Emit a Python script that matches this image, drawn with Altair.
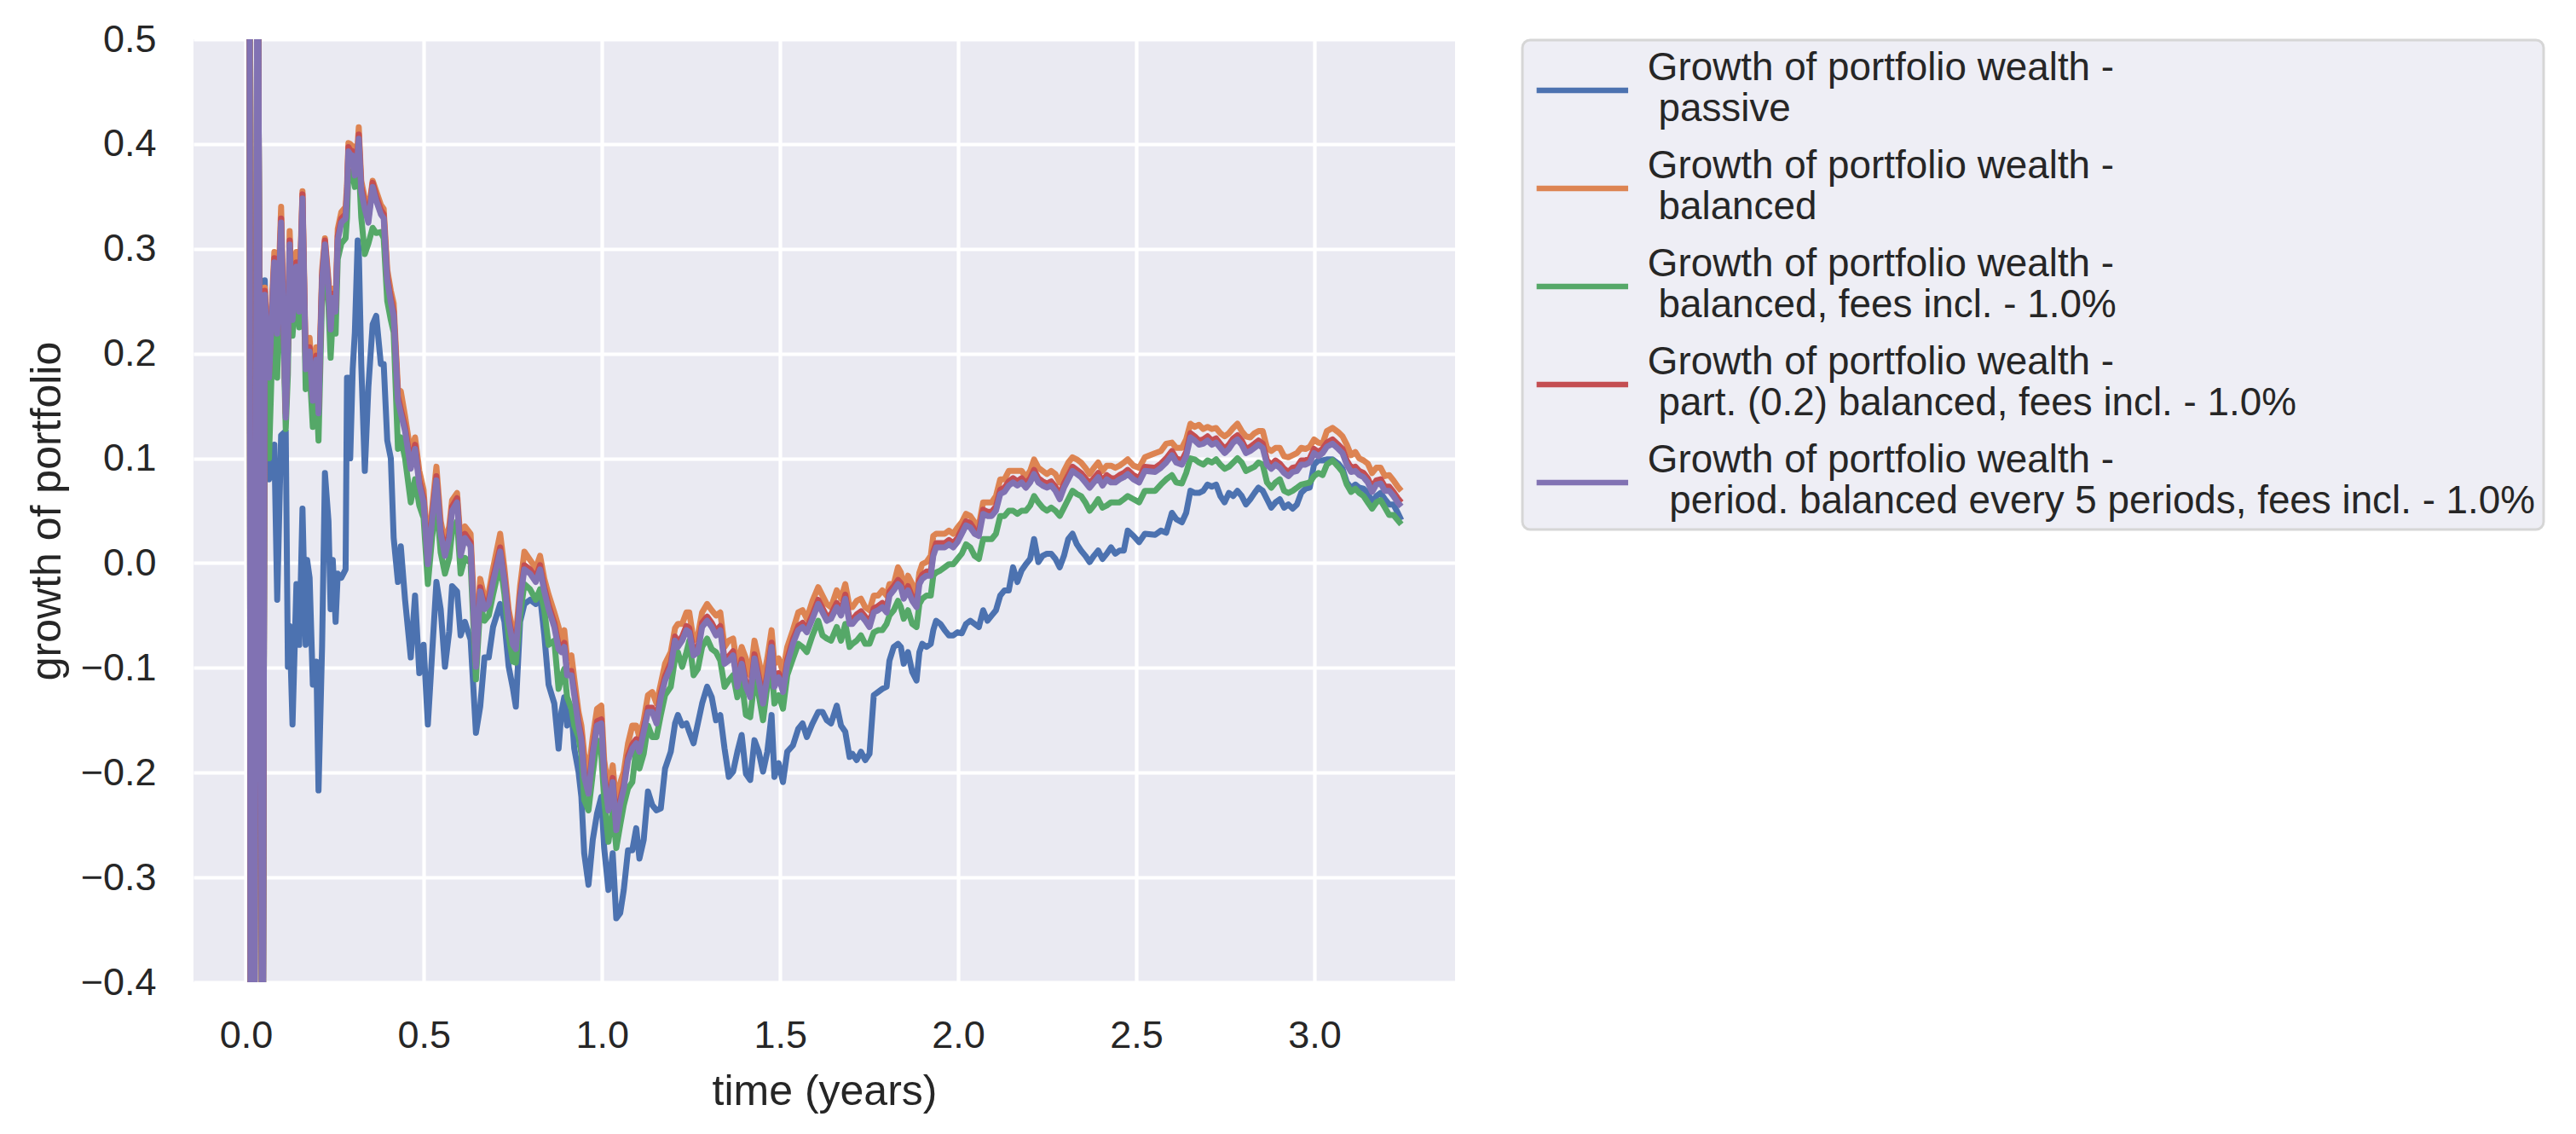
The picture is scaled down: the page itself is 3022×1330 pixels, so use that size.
import altair as alt
import pandas as pd

# time (years)
t_head = [0.008, 0.016, 0.033, 0.047]
t_main = [
0.053,0.065,0.080,0.088,0.099,0.112,0.118,0.123,0.131,0.142,0.150,0.159,0.168,0.172,0.179,0.188,0.198,0.204,0.214,0.222,
0.232,0.238,0.244,0.252,0.258,0.268,0.280,0.284,0.288,0.293,0.300,0.306,0.314,0.317,0.324,0.334,0.344,0.356,0.366,0.379,
0.387,0.397,0.407,0.415,0.427,0.435,0.447,0.463,0.475,0.487,0.499,0.511,0.523,0.535,0.547,0.559,0.571,0.579,0.593,0.603,
0.615,0.631,0.646,0.658,0.670,0.682,0.694,0.714,0.726,0.738,0.750,0.758,0.770,0.782,0.798,0.814,0.826,0.838,0.850,
0.866,0.878,0.886,0.894,0.902,0.914,0.922,0.934,0.942,0.950,0.962,0.974,0.986,0.998,1.006,1.018,1.030,1.040,1.051,1.061,
1.073,1.085,1.096,1.105,1.117,1.129,1.141,1.153,1.165,1.177,1.193,1.205,1.213,1.225,1.237,1.245,1.257,1.269,1.281,1.295,
1.308,1.320,1.332,1.344,1.356,1.368,1.380,1.392,1.404,1.416,1.428,1.440,1.452,1.464,1.476,1.484,1.496,1.508,1.520,1.536,
1.551,1.563,1.575,1.591,1.607,1.619,1.631,1.643,1.659,1.671,1.683,1.695,
1.703,1.715,1.727,1.739,1.751,1.763,1.775,1.787,1.799,1.807,1.819,1.831,1.839,1.847,1.859,1.871,1.883,1.891,1.899,1.911,
1.923,1.930,1.938,1.950,1.962,1.974,1.986,1.998,2.010,2.022,2.034,2.046,2.058,2.070,2.082,2.094,2.106,2.118,2.130,2.142,
2.154,2.166,2.178,2.190,2.202,2.213,2.225,2.237,2.249,2.261,2.273,2.285,2.297,2.309,2.321,2.333,2.345,2.357,2.369,2.381,
2.393,2.405,2.417,2.429,2.441,2.453,2.465,2.476,2.492,2.508,2.524,
2.553,2.569,2.584,2.600,2.612,2.628,2.640,2.652,2.664,2.676,2.688,2.700,2.712,2.724,2.736,2.748,2.760,2.772,2.784,2.796,
2.808,2.820,2.832,2.843,2.855,2.867,2.879,2.891,2.903,2.915,2.927,2.939,2.951,2.963,2.975,2.987,2.999,3.011,3.023,3.035,
3.051,3.067,3.079,3.091,3.103,3.115,3.126,3.138,3.150,3.162,3.174,3.186,3.198,3.210,3.222,3.234,3.244]

# initial out-of-range values shared by all strategies
v_head = [1.5, -1.5, 0.7, -0.6]

passive = [
0.270,0.080,0.113,-0.035,0.122,0.126,-0.099,-0.060,-0.154,-0.020,-0.078,0.052,-0.078,0.003,-0.014,-0.116,-0.094,-0.217,-0.080,0.086,
0.040,-0.044,0.003,-0.056,-0.010,-0.014,-0.006,0.177,0.177,0.100,0.185,0.220,0.308,0.300,0.190,0.088,0.168,0.228,0.236,0.190,
0.190,0.117,0.100,0.024,-0.018,0.016,-0.035,-0.090,-0.031,-0.105,-0.078,-0.154,-0.086,-0.018,-0.044,-0.099,-0.065,-0.022,-0.027,-0.069,
-0.056,-0.073,-0.162,-0.137,-0.090,-0.090,-0.061,-0.039,-0.056,-0.099,-0.120,-0.137,-0.056,-0.039,-0.035,-0.039,-0.031,-0.069,-0.116,
-0.134,-0.177,-0.142,-0.128,-0.155,-0.139,-0.177,-0.199,-0.223,-0.277,-0.307,-0.264,-0.239,-0.223,-0.272,-0.312,-0.277,-0.339,-0.334,-0.312,
-0.274,-0.274,-0.253,-0.282,-0.264,-0.218,-0.231,-0.236,-0.234,-0.196,-0.180,-0.153,-0.145,-0.155,-0.153,-0.161,-0.172,-0.153,-0.134,-0.118,
-0.128,-0.150,-0.145,-0.177,-0.204,-0.199,-0.180,-0.164,-0.201,-0.207,-0.169,-0.180,-0.199,-0.180,-0.145,-0.204,-0.191,-0.209,-0.180,-0.174,
-0.158,-0.153,-0.166,-0.153,-0.142,-0.142,-0.150,-0.153,-0.136,-0.155,-0.161,-0.185,
-0.182,-0.188,-0.180,-0.188,-0.182,-0.126,-0.123,-0.120,-0.118,-0.093,-0.080,-0.077,-0.080,-0.096,-0.085,-0.104,-0.112,-0.085,-0.077,-0.080,
-0.077,-0.064,-0.055,-0.058,-0.064,-0.069,-0.069,-0.066,-0.067,-0.058,-0.055,-0.058,-0.061,-0.045,-0.055,-0.050,-0.045,-0.031,-0.026,-0.026,
-0.004,-0.018,-0.007,-0.001,0.004,0.023,0.001,0.007,0.009,0.009,0.004,-0.004,0.007,0.023,0.028,0.018,0.012,0.007,0.001,0.007,
0.012,0.004,0.009,0.015,0.009,0.012,0.012,0.031,0.026,0.020,0.028,
0.027,0.031,0.029,0.048,0.042,0.039,0.048,0.069,0.067,0.067,0.069,0.075,0.073,0.075,0.064,0.058,0.067,0.064,0.069,0.064,
0.056,0.061,0.067,0.072,0.069,0.061,0.053,0.058,0.061,0.053,0.056,0.052,0.056,0.067,0.071,0.072,0.094,0.098,0.098,0.099,
0.099,0.095,0.090,0.077,0.072,0.075,0.072,0.071,0.067,0.058,0.064,0.067,0.061,0.056,0.056,0.048,0.041]

balanced = [
0.263,0.190,0.297,0.232,0.340,0.150,0.210,0.317,0.243,0.297,0.252,0.355,0.196,0.200,0.215,0.168,0.206,0.155,0.280,0.310,
0.270,0.235,0.262,0.250,0.319,0.335,0.340,0.360,0.401,0.400,0.398,0.380,0.400,0.416,0.365,0.348,0.335,0.365,0.355,0.342,
0.338,0.280,0.260,0.248,0.166,0.164,0.140,0.105,0.120,0.088,0.070,0.012,0.052,0.092,0.040,0.020,0.035,0.060,0.067,0.020,
0.035,0.028,-0.085,-0.015,-0.033,-0.028,-0.005,0.028,-0.005,-0.045,-0.065,-0.070,-0.022,0.011,0.003,-0.005,0.007,-0.015,-0.030,
-0.047,-0.061,-0.074,-0.064,-0.091,-0.088,-0.110,-0.142,-0.155,-0.182,-0.201,-0.166,-0.139,-0.136,-0.188,-0.215,-0.193,-0.231,-0.210,-0.199,
-0.172,-0.155,-0.155,-0.166,-0.150,-0.126,-0.123,-0.134,-0.115,-0.096,-0.085,-0.062,-0.058,-0.058,-0.047,-0.047,-0.074,-0.069,-0.047,-0.039,
-0.045,-0.050,-0.047,-0.080,-0.074,-0.072,-0.099,-0.080,-0.091,-0.107,-0.074,-0.093,-0.112,-0.091,-0.064,-0.096,-0.091,-0.104,-0.080,-0.064,
-0.047,-0.045,-0.053,-0.036,-0.023,-0.031,-0.039,-0.042,-0.026,-0.034,-0.020,-0.042,
-0.042,-0.036,-0.034,-0.042,-0.045,-0.031,-0.031,-0.026,-0.031,-0.020,-0.020,-0.004,-0.009,-0.023,-0.012,-0.020,-0.031,-0.009,-0.001,0.001,
0.007,0.026,0.028,0.028,0.028,0.031,0.028,0.034,0.039,0.047,0.045,0.039,0.036,0.058,0.058,0.058,0.064,0.080,0.080,0.088,
0.088,0.088,0.088,0.082,0.088,0.099,0.091,0.088,0.085,0.088,0.085,0.077,0.088,0.096,0.101,0.099,0.096,0.091,0.085,0.091,
0.096,0.088,0.093,0.093,0.091,0.093,0.096,0.099,0.093,0.091,0.101,
0.105,0.107,0.114,0.115,0.110,0.110,0.118,0.133,0.130,0.132,0.128,0.130,0.128,0.129,0.124,0.121,0.124,0.129,0.133,0.126,
0.121,0.120,0.124,0.126,0.126,0.110,0.107,0.110,0.110,0.102,0.101,0.103,0.105,0.110,0.109,0.111,0.118,0.115,0.114,0.126,
0.129,0.125,0.121,0.113,0.103,0.106,0.100,0.098,0.095,0.086,0.091,0.091,0.083,0.084,0.079,0.073,0.069]

balanced_fees = [
0.250,0.100,0.270,0.177,0.310,0.128,0.180,0.290,0.217,0.270,0.225,0.330,0.166,0.170,0.185,0.130,0.165,0.117,0.255,0.290,
0.245,0.196,0.235,0.219,0.290,0.305,0.310,0.330,0.375,0.372,0.370,0.359,0.370,0.380,0.330,0.295,0.305,0.320,0.315,0.316,
0.310,0.250,0.232,0.220,0.109,0.120,0.100,0.058,0.080,0.055,0.043,-0.020,0.025,0.060,0.010,-0.010,0.005,0.030,0.040,-0.010,
0.005,0.000,-0.111,-0.040,-0.055,-0.050,-0.030,0.000,-0.030,-0.070,-0.094,-0.095,-0.050,-0.020,-0.025,-0.035,-0.025,-0.045,-0.078,
-0.074,-0.120,-0.109,-0.101,-0.128,-0.139,-0.155,-0.166,-0.182,-0.226,-0.236,-0.201,-0.169,-0.182,-0.226,-0.266,-0.236,-0.272,-0.250,-0.231,
-0.215,-0.209,-0.177,-0.196,-0.182,-0.155,-0.166,-0.166,-0.145,-0.126,-0.118,-0.091,-0.085,-0.099,-0.085,-0.074,-0.107,-0.101,-0.080,-0.072,
-0.082,-0.085,-0.093,-0.118,-0.112,-0.107,-0.128,-0.112,-0.145,-0.147,-0.112,-0.126,-0.150,-0.118,-0.100,-0.134,-0.126,-0.139,-0.107,-0.091,
-0.077,-0.080,-0.085,-0.069,-0.055,-0.069,-0.072,-0.074,-0.061,-0.074,-0.058,-0.080,
-0.077,-0.074,-0.069,-0.077,-0.077,-0.066,-0.064,-0.064,-0.058,-0.050,-0.045,-0.036,-0.042,-0.053,-0.045,-0.058,-0.061,-0.039,-0.034,-0.031,
-0.031,-0.012,-0.009,-0.007,-0.004,-0.001,-0.001,0.004,0.009,0.018,0.015,0.007,0.004,0.023,0.023,0.023,0.028,0.045,0.045,0.050,
0.050,0.047,0.050,0.050,0.055,0.064,0.058,0.053,0.050,0.053,0.050,0.045,0.053,0.061,0.069,0.066,0.064,0.058,0.050,0.055,
0.061,0.053,0.055,0.058,0.058,0.058,0.061,0.064,0.061,0.058,0.069,
0.069,0.075,0.080,0.084,0.077,0.076,0.086,0.100,0.099,0.096,0.094,0.098,0.096,0.099,0.094,0.090,0.092,0.096,0.100,0.096,
0.088,0.090,0.092,0.096,0.094,0.077,0.072,0.077,0.080,0.069,0.067,0.069,0.072,0.075,0.076,0.077,0.083,0.086,0.084,0.094,
0.098,0.092,0.087,0.075,0.068,0.071,0.067,0.064,0.058,0.052,0.058,0.060,0.053,0.046,0.046,0.041,0.037]

part_balanced = [
0.260,0.181,0.291,0.223,0.329,0.143,0.204,0.308,0.236,0.287,0.244,0.352,0.189,0.194,0.206,0.159,0.198,0.147,0.274,0.308,
0.265,0.227,0.257,0.244,0.312,0.329,0.333,0.354,0.397,0.394,0.393,0.374,0.394,0.409,0.359,0.342,0.329,0.363,0.350,0.337,
0.333,0.274,0.253,0.240,0.159,0.147,0.130,0.094,0.113,0.079,0.062,0.003,0.045,0.083,0.032,0.011,0.028,0.054,0.062,0.011,
0.028,0.020,-0.095,-0.023,-0.040,-0.035,-0.014,0.015,-0.014,-0.052,-0.074,-0.078,-0.031,-0.002,-0.006,-0.014,-0.002,-0.023,-0.040,
-0.057,-0.078,-0.081,-0.076,-0.103,-0.103,-0.122,-0.151,-0.165,-0.200,-0.216,-0.178,-0.151,-0.149,-0.200,-0.232,-0.205,-0.251,-0.226,-0.211,
-0.184,-0.173,-0.168,-0.176,-0.157,-0.138,-0.138,-0.149,-0.124,-0.108,-0.095,-0.070,-0.076,-0.070,-0.060,-0.062,-0.084,-0.081,-0.057,-0.051,
-0.057,-0.065,-0.060,-0.092,-0.089,-0.084,-0.114,-0.092,-0.114,-0.124,-0.087,-0.108,-0.130,-0.105,-0.076,-0.114,-0.105,-0.119,-0.092,-0.073,
-0.060,-0.057,-0.062,-0.049,-0.035,-0.043,-0.051,-0.049,-0.038,-0.046,-0.030,-0.054,
-0.054,-0.049,-0.046,-0.051,-0.057,-0.043,-0.041,-0.038,-0.043,-0.027,-0.022,-0.016,-0.019,-0.030,-0.022,-0.032,-0.038,-0.016,-0.011,-0.008,
-0.008,0.011,0.019,0.019,0.019,0.022,0.019,0.024,0.032,0.040,0.038,0.032,0.030,0.051,0.049,0.049,0.054,0.070,0.072,0.078,
0.081,0.078,0.081,0.076,0.081,0.089,0.081,0.078,0.076,0.078,0.073,0.065,0.076,0.084,0.092,0.089,0.086,0.081,0.076,0.081,
0.086,0.078,0.084,0.081,0.081,0.084,0.086,0.089,0.084,0.081,0.092,
0.091,0.095,0.100,0.107,0.100,0.098,0.106,0.124,0.121,0.117,0.118,0.121,0.117,0.119,0.114,0.109,0.113,0.119,0.122,0.117,
0.109,0.111,0.114,0.117,0.114,0.098,0.094,0.098,0.095,0.090,0.087,0.091,0.092,0.098,0.098,0.100,0.109,0.106,0.109,0.115,
0.118,0.113,0.109,0.098,0.091,0.092,0.088,0.086,0.081,0.072,0.079,0.080,0.073,0.073,0.068,0.062,0.058]

period_balanced = [
0.256,0.177,0.287,0.219,0.325,0.139,0.200,0.304,0.232,0.283,0.240,0.348,0.185,0.190,0.202,0.155,0.194,0.143,0.270,0.304,
0.261,0.223,0.253,0.240,0.308,0.325,0.329,0.350,0.393,0.390,0.389,0.370,0.390,0.405,0.355,0.338,0.325,0.359,0.346,0.333,
0.329,0.270,0.249,0.236,0.155,0.143,0.126,0.090,0.109,0.075,0.058,-0.001,0.041,0.079,0.028,0.007,0.024,0.050,0.058,0.007,
0.024,0.016,-0.099,-0.027,-0.044,-0.039,-0.018,0.011,-0.018,-0.056,-0.078,-0.082,-0.035,-0.006,-0.010,-0.018,-0.006,-0.027,-0.044,
-0.061,-0.082,-0.085,-0.080,-0.107,-0.107,-0.126,-0.155,-0.169,-0.204,-0.220,-0.182,-0.155,-0.153,-0.204,-0.236,-0.209,-0.255,-0.230,-0.215,
-0.188,-0.177,-0.172,-0.180,-0.161,-0.142,-0.142,-0.153,-0.128,-0.112,-0.099,-0.074,-0.080,-0.074,-0.064,-0.066,-0.088,-0.085,-0.061,-0.055,
-0.061,-0.069,-0.064,-0.096,-0.093,-0.088,-0.118,-0.096,-0.118,-0.128,-0.091,-0.112,-0.134,-0.109,-0.080,-0.118,-0.109,-0.123,-0.096,-0.077,
-0.064,-0.061,-0.066,-0.053,-0.039,-0.047,-0.055,-0.053,-0.042,-0.050,-0.034,-0.058,
-0.058,-0.053,-0.050,-0.055,-0.061,-0.047,-0.045,-0.042,-0.047,-0.031,-0.026,-0.020,-0.023,-0.034,-0.026,-0.036,-0.042,-0.020,-0.015,-0.012,
-0.012,0.007,0.015,0.015,0.015,0.018,0.015,0.020,0.028,0.036,0.034,0.028,0.026,0.047,0.045,0.045,0.050,0.066,0.068,0.074,
0.077,0.074,0.077,0.072,0.077,0.085,0.077,0.074,0.072,0.074,0.069,0.061,0.072,0.080,0.088,0.085,0.082,0.077,0.072,0.077,
0.082,0.074,0.080,0.077,0.077,0.080,0.082,0.085,0.080,0.077,0.088,
0.087,0.091,0.096,0.103,0.096,0.094,0.102,0.120,0.117,0.113,0.114,0.117,0.113,0.115,0.110,0.105,0.109,0.115,0.118,0.113,
0.105,0.107,0.110,0.113,0.110,0.094,0.090,0.094,0.091,0.086,0.083,0.087,0.088,0.094,0.094,0.096,0.105,0.102,0.105,0.111,
0.114,0.109,0.105,0.094,0.087,0.088,0.084,0.082,0.077,0.068,0.075,0.076,0.069,0.069,0.064,0.058,0.054]

SP1 = "\u200b\u00a0"
SP2 = "\u200b\u00a0\u00a0"
names = [
    "Growth of portfolio wealth -|" + SP1 + "passive",
    "Growth of portfolio wealth -|" + SP1 + "balanced",
    "Growth of portfolio wealth -|" + SP1 + "balanced, fees incl. - 1.0%",
    "Growth of portfolio wealth -|" + SP1 + "part. (0.2) balanced, fees incl. - 1.0%",
    "Growth of portfolio wealth -|" + SP2 + "period. balanced every 5 periods, fees incl. - 1.0%",
]
colors = ["#4C72B0", "#DD8452", "#55A868", "#C44E52", "#8172B3"]
series_values = [passive, balanced, balanced_fees, part_balanced, period_balanced]

x_ticks = [0.0, 0.5, 1.0, 1.5, 2.0, 2.5, 3.0]
y_ticks = [-0.4, -0.3, -0.2, -0.1, 0.0, 0.1, 0.2, 0.3, 0.4, 0.5]

t_all = t_head + t_main
rows = []
for name, vals in zip(names, series_values):
    full = v_head + vals
    for tt, vv in zip(t_all, full):
        rows.append({"t": tt, "v": vv, "series": name})
df = pd.DataFrame(rows)

FONT = "Liberation Sans"
TXT = "#262626"

# legend handle: horizontal stroke, placed level with the middle of the two-line label
HANDLE = "M-1.625,2.6L9.115,2.6"

x_enc = alt.X("t:Q",
              scale=alt.Scale(domain=[-0.147, 3.395], nice=False, zero=False),
              axis=alt.Axis(values=x_ticks, format=".1f", title="time (years)",
                            labelPadding=40, titleX=740, titleY=128,
                            titleBaseline="middle"))
y_enc = alt.Y("v:Q",
              scale=alt.Scale(domain=[-0.4, 0.5], nice=False, zero=False),
              axis=alt.Axis(values=y_ticks, format=".1f", title="growth of portfolio",
                            labelPadding=44, titleX=-172, titleY=553,
                            titleBaseline="middle"))
c_enc = alt.Color("series:N",
                  scale=alt.Scale(domain=names, range=colors),
                  legend=alt.Legend(title=None, orient="none", legendX=1559, legendY=1,
                                    symbolType=HANDLE, symbolSize=400,
                                    symbolStrokeWidth=6.5,
                                    labelExpr="split(datum.label, '|')",
                                    labelFont=FONT, labelFontSize=45.8, labelColor=TXT,
                                    labelLimit=1400, labelOffset=91,
                                    padding=10, rowPadding=20,
                                    fillColor="#EEEEF5", strokeColor="#D6D6D6",
                                    cornerRadius=9))

layers = []
for name in names:
    layers.append(
        alt.Chart(df)
        .transform_filter(alt.datum.series == name)
        .mark_line(clip=True, strokeWidth=7, strokeJoin="round", strokeCap="butt")
        .encode(x=x_enc, y=y_enc, color=c_enc, order="t:Q")
    )

chart = (
    alt.layer(*layers)
    .properties(width=1480, height=1106,
                autosize=alt.AutoSizeParams(type="none"),
                padding={"left": 219, "top": 38, "right": 1307, "bottom": 170},
                background="white")
    .configure_view(fill="#EAEAF2", stroke="#EAEAF2", strokeWidth=0)
    .configure_axis(domain=False, ticks=False, grid=True, gridColor="white",
                    gridWidth=4.2, labelFont=FONT, labelFontSize=45, labelColor=TXT,
                    titleFont=FONT, titleFontSize=50, titleFontWeight="normal",
                    titleColor=TXT)
    .configure_legend(strokeWidth=3)
)

chart.save("out.html", embed_options={"renderer": "svg", "actions": False})
